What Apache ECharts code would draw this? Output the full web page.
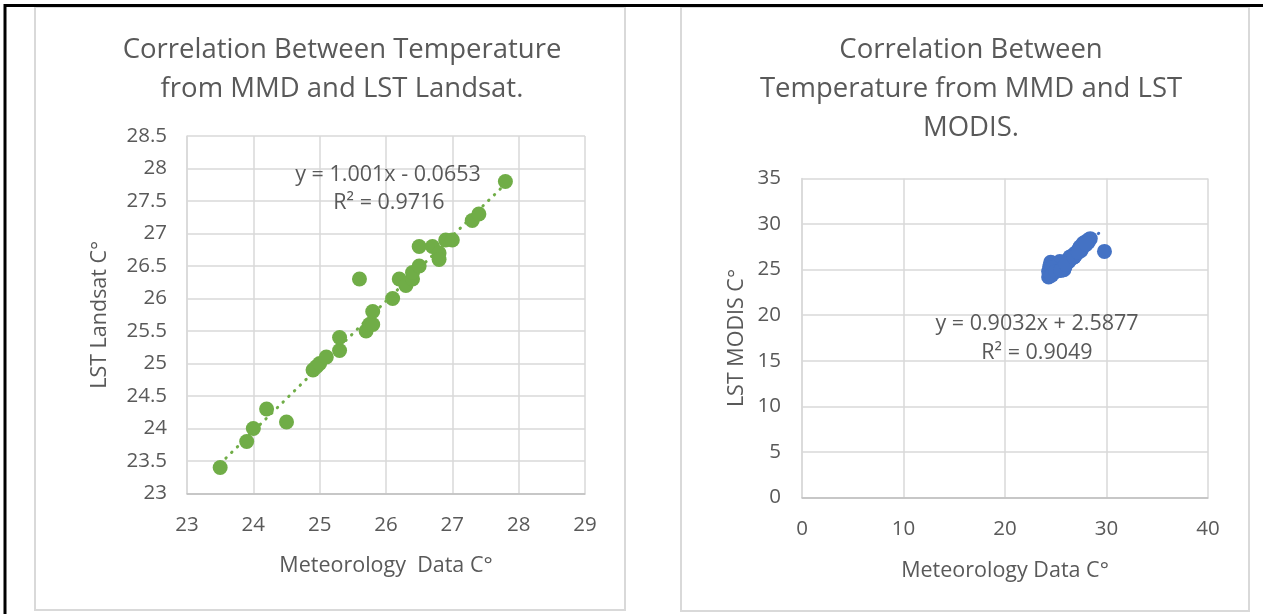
<!DOCTYPE html>
<html>
<head>
<meta charset="utf-8">
<script src="https://cdn.jsdelivr.net/npm/echarts@6/dist/echarts.min.js"></script>
<style>
html,body{margin:0;padding:0;background:#fff;}
#c{width:1263px;height:614px;}
</style>
</head>
<body>
<div id="c"></div>
<script>
// ---- Landsat chart data ----
const landsatX = [23.5,23.9,24.0,24.2,24.5,24.9,24.95,25.0,25.1,25.3,25.3,25.6,25.7,25.75,25.8,25.8,26.1,26.2,26.3,26.4,26.4,26.5,26.5,26.7,26.8,26.8,26.9,27.0,27.3,27.4,27.8];
const landsatY = [23.4,23.8,24.0,24.3,24.1,24.9,24.95,25.0,25.1,25.2,25.4,26.3,25.5,25.6,25.6,25.8,26.0,26.3,26.2,26.3,26.4,26.5,26.8,26.8,26.7,26.6,26.9,26.9,27.2,27.3,27.8];
const landsatTrend = {slope:1.001, intercept:-0.0653};
const landsatEq = ['y = 1.001x - 0.0653','R² = 0.9716'];

// ---- MODIS chart data ----
const modisX = [24.3,24.4,24.5,24.4,24.5,24.8,25.0,25.2,25.3,25.5,25.6,25.8,25.9,26.0,26.2,26.3,26.5,26.6,26.8,26.9,27.0,27.2,27.3,27.5,27.6,27.7,27.9,28.0,28.2,28.3,28.4,27.4,26.4,25.4,24.3,24.6,24.6,25.0,25.5,26.0,26.8,27.2,28.0,29.8];
const modisY = [24.2,24.5,24.9,25.3,25.8,25.7,25.2,25.5,25.0,25.4,25.8,25.0,25.3,25.9,26.0,25.9,26.2,26.5,26.4,26.8,26.7,27.0,27.3,27.1,27.6,27.9,27.7,28.1,28.0,28.3,28.4,27.5,26.4,25.9,24.8,25.2,24.4,24.8,24.9,25.6,26.4,26.9,27.8,27.0];
const modisTrend = {slope:0.9032, intercept:2.5877};
const modisEq = ['y = 0.9032x + 2.5877','R² = 0.9049'];

// ---- titles / axis names ----
const titles = ['Correlation Between Temperature\nfrom MMD and LST Landsat.', 'Correlation Between\nTemperature from MMD and LST\nMODIS.'];
const xNames = ['Meteorology  Data C°','Meteorology Data C°'];
const yNames = ['LST Landsat C°','LST MODIS C°'];

const FONT = 'Open Sans';
const TXT = '#595959';
const GRID = '#d9d9d9';

function pairs(xs, ys){ return xs.map((x,i)=>[x, ys[i]]); }
function trend(xs, t){
  const lo = Math.min(...xs), hi = Math.max(...xs);
  return [[lo, t.slope*lo + t.intercept],[hi, t.slope*hi + t.intercept]];
}

const chart = echarts.init(document.getElementById('c'), null, {renderer:'canvas'});

const axisCommon = {
  axisLine:{show:true, lineStyle:{color:'#bfbfbf', width:1.5}},
  axisTick:{show:false},
  splitLine:{show:true, lineStyle:{color:GRID, width:1.5}},
  axisLabel:{color:TXT, fontFamily:FONT, fontSize:20.5},
  nameTextStyle:{color:TXT, fontFamily:FONT, fontSize:21.5},
  nameLocation:'middle'
};

const titleStyle = {color:TXT, fontFamily:FONT, fontSize:27.5, fontWeight:'normal', lineHeight:39};
const eqFont = '21.5px "Open Sans"';

const option = {
  animation:false,
  title:[
    {text:titles[0], left:337, top:25.5, textAlign:'center', textStyle:titleStyle},
    {text:titles[1], left:966, top:25.5, textAlign:'center', textStyle:titleStyle}
  ],
  grid:[
    {left:187, top:136, width:398, height:357.5},
    {left:802, top:178.5, width:406, height:319}
  ],
  xAxis:[
    Object.assign({}, axisCommon, {gridIndex:0, type:'value', min:23, max:29, interval:1, name:xNames[0], nameGap:61,
      axisLabel:Object.assign({}, axisCommon.axisLabel, {margin:21})}),
    Object.assign({}, axisCommon, {gridIndex:1, type:'value', min:0, max:40, interval:10, name:xNames[1], nameGap:62,
      axisLabel:Object.assign({}, axisCommon.axisLabel, {margin:21})})
  ],
  yAxis:[
    Object.assign({}, axisCommon, {gridIndex:0, type:'value', min:23, max:28.5, interval:0.5, name:yNames[0], nameGap:76,
      axisLine:{show:true, lineStyle:{color:GRID, width:1.5}},
      axisLabel:Object.assign({}, axisCommon.axisLabel, {margin:20})}),
    Object.assign({}, axisCommon, {gridIndex:1, type:'value', min:0, max:35, interval:5, name:yNames[1], nameGap:54,
      axisLine:{show:true, lineStyle:{color:GRID, width:1.5}},
      axisLabel:Object.assign({}, axisCommon.axisLabel, {margin:21})})
  ],
  series:[
    {type:'line', xAxisIndex:0, yAxisIndex:0, data:trend(landsatX, landsatTrend), symbol:'none', silent:true,
     lineStyle:{color:'#70AD47', width:3, type:[0.5,7.5], cap:'round'}, z:1},
    {type:'scatter', xAxisIndex:0, yAxisIndex:0, data:pairs(landsatX, landsatY), symbolSize:15,
     itemStyle:{color:'#70AD47', opacity:1}, z:2},
    {type:'line', xAxisIndex:1, yAxisIndex:1, data:trend(modisX, modisTrend), symbol:'none', silent:true,
     lineStyle:{color:'#4472C4', width:3, type:[0.5,7.5], cap:'round'}, z:1},
    {type:'scatter', xAxisIndex:1, yAxisIndex:1, data:pairs(modisX, modisY), symbolSize:15,
     itemStyle:{color:'#4472C4', opacity:1}, z:2}
  ],
  graphic:[
    {type:'rect', shape:{x:35, y:7, width:590, height:603}, style:{fill:null, stroke:'#d9d9d9', lineWidth:2}, z:-1},
    {type:'rect', shape:{x:681, y:7, width:568, height:604}, style:{fill:null, stroke:'#d9d9d9', lineWidth:2}, z:-1},
    {type:'rect', shape:{x:5, y:5.5, width:1300, height:700}, style:{fill:null, stroke:'#000', lineWidth:3}, z:10},
    {type:'text', x:388, y:175, style:{text:landsatEq[0], fill:TXT, font:eqFont, textAlign:'center', textVerticalAlign:'middle'}, z:5},
    {type:'text', x:389, y:203, style:{text:landsatEq[1], fill:TXT, font:eqFont, textAlign:'center', textVerticalAlign:'middle'}, z:5},
    {type:'text', x:1037, y:324, style:{text:modisEq[0], fill:TXT, font:eqFont, textAlign:'center', textVerticalAlign:'middle'}, z:5},
    {type:'text', x:1037, y:353, style:{text:modisEq[1], fill:TXT, font:eqFont, textAlign:'center', textVerticalAlign:'middle'}, z:5}
  ]
};
chart.setOption(option);
</script>
</body>
</html>
